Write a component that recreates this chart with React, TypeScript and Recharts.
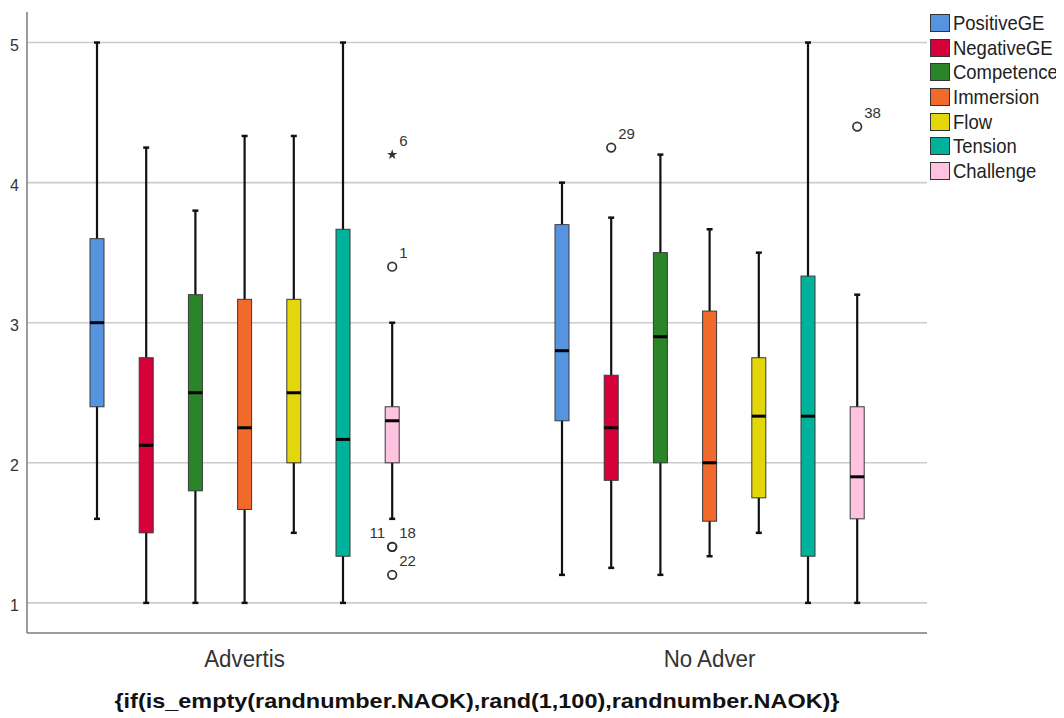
import React from 'react';
import { BarChart, Bar, XAxis, YAxis, CartesianGrid, Legend, Label } from 'recharts';

const FONT = '"Liberation Sans", Arial, Helvetica, sans-serif';

// ---- data ----
const categories = ['Advertis', 'No Adver'];
const seriesNames = ['PositiveGE', 'NegativeGE', 'Competence', 'Immersion', 'Flow', 'Tension', 'Challenge'];
const seriesColors = ['#5794E0', '#D6003A', '#2A8428', '#F2692C', '#E3D60A', '#00B29B', '#FFC3E1'];
const yTicks = [1, 2, 3, 4, 5];
const chartTitle = '{if(is_empty(randnumber.NAOK),rand(1,100),randnumber.NAOK)}';

// rows: series, columns: [Advertis, No Adver]
const lowWhisker = [[1.6, 1.2], [1.0, 1.25], [1.0, 1.2], [1.0, 1.333], [1.5, 1.5], [1.0, 1.0], [1.6, 1.0]];
const q1 = [[2.4, 2.3], [1.5, 1.875], [1.8, 2.0], [1.667, 1.583], [2.0, 1.75], [1.333, 1.333], [2.0, 1.6]];
const medians = [[3.0, 2.8], [2.125, 2.25], [2.5, 2.9], [2.25, 2.0], [2.5, 2.333], [2.167, 2.333], [2.3, 1.9]];
const q3 = [[3.6, 3.7], [2.75, 2.625], [3.2, 3.5], [3.167, 3.083], [3.167, 2.75], [3.667, 3.333], [2.4, 2.4]];
const highWhisker = [[5.0, 4.0], [4.25, 3.75], [3.8, 4.2], [4.333, 3.667], [4.333, 3.5], [5.0, 5.0], [3.0, 3.2]];

const outlierCategory = [0, 0, 0, 0, 0, 1, 1];
const outlierSeries = [6, 6, 6, 6, 6, 1, 6];
const outlierValue = [4.2, 3.4, 1.4, 1.4, 1.2, 4.25, 4.4];
const outlierLabel = ['6', '1', '11', '18', '22', '29', '38'];
const outlierExtreme = [true, false, false, false, false, false, false];
const outlierLabelLeft = [false, false, true, false, false, false, false];

const data = categories.map((category, ci) => ({ category, ci }));

function starPath(cx: number, cy: number, R: number, r: number) {
  let d = '';
  for (let i = 0; i < 10; i++) {
    const ang = -Math.PI / 2 + (i * Math.PI) / 5;
    const rad = i % 2 === 0 ? R : r;
    d += (i === 0 ? 'M' : 'L') + (cx + rad * Math.cos(ang)).toFixed(2) + ',' + (cy + rad * Math.sin(ang)).toFixed(2);
  }
  return d + 'Z';
}

const BoxShape = (props: any) => {
  const { x, y, width, height, si } = props;
  const ci = props.payload && props.payload.ci !== undefined ? props.payload.ci : props.index;
  const lo = lowWhisker[si][ci];
  const hi = highWhisker[si][ci];
  const top = Math.min(y, y + height);
  const bot = Math.max(y, y + height);
  const k = (bot - top) / (hi - lo);
  const py = (v: number) => top + (hi - v) * k;
  const cx = x + width / 2;
  const yQ3 = py(q3[si][ci]);
  const yQ1 = py(q1[si][ci]);
  const yMed = py(medians[si][ci]);
  const items: any[] = [];
  outlierValue.forEach((v, oi) => {
    if (outlierCategory[oi] !== ci || outlierSeries[oi] !== si) return;
    const oy = py(v);
    items.push(
      <g key={'o' + oi}>
        {outlierExtreme[oi] ? (
          <path d={starPath(cx, oy, 5.4, 2.1)} fill="#333" />
        ) : (
          <circle cx={cx} cy={oy} r={4.3} fill="none" stroke="#333" strokeWidth={1.7} />
        )}
        <text
          x={outlierLabelLeft[oi] ? cx - 7 : cx + 7}
          y={oy - 9}
          textAnchor={outlierLabelLeft[oi] ? 'end' : 'start'}
          fontSize={15}
          fontFamily={FONT}
          fill="#333"
        >
          {outlierLabel[oi]}
        </text>
      </g>
    );
  });
  return (
    <g>
      <line x1={cx} x2={cx} y1={top} y2={bot} stroke="#111" strokeWidth={2.2} />
      <line x1={cx - 3} x2={cx + 3} y1={top} y2={top} stroke="#111" strokeWidth={2.5} />
      <line x1={cx - 3} x2={cx + 3} y1={bot} y2={bot} stroke="#111" strokeWidth={2.5} />
      <rect x={x} y={yQ3} width={width} height={yQ1 - yQ3} fill={seriesColors[si]} stroke="#3a3a3a" strokeWidth={1} />
      <line x1={x} x2={x + width} y1={yMed} y2={yMed} stroke="#000" strokeWidth={3} />
      {items}
    </g>
  );
};

const CatTick = (props: any) => {
  const { x, y, payload } = props;
  return (
    <text
      transform={`translate(${x},${y + 34}) scale(0.93,1)`}
      textAnchor="middle"
      fontSize={24}
      fontFamily={FONT}
      fill="#333"
    >
      {payload.value}
    </text>
  );
};

const ValTick = (props: any) => {
  const { x, y, payload } = props;
  return (
    <text x={x - 8} y={y + 8.5} textAnchor="end" fontSize={16} fontFamily={FONT} fill="#333">
      {payload.value}
    </text>
  );
};

const LegendBox = () => (
  <div style={{ fontFamily: FONT }}>
    {seriesNames.map((n, i) => (
      <div key={n} style={{ display: 'flex', alignItems: 'center', height: 24.6 }}>
        <div
          style={{
            width: 20,
            height: 18,
            background: seriesColors[i],
            border: '1px solid #333',
            boxSizing: 'border-box',
            flex: 'none',
          }}
        />
        <span
          style={{
            fontSize: 21,
            marginLeft: 3,
            display: 'inline-block',
            transform: 'scaleX(0.88)',
            transformOrigin: 'left center',
            whiteSpace: 'nowrap',
            color: '#222',
            lineHeight: '24px',
          }}
        >
          {n}
        </span>
      </div>
    ))}
  </div>
);

const gridRows = (p: any) => {
  const yAxis = p && p.yAxis;
  if (yAxis && typeof yAxis.scale === 'function') {
    return yTicks.map((t) => yAxis.scale(t));
  }
  const off = p.offset;
  return yTicks.map((t) => off.top + ((5.218 - t) / (5.218 - 0.785)) * off.height);
};

export default function App() {
  return (
    <BarChart
      width={1048}
      height={708}
      data={data}
      margin={{ top: 4, right: 0, bottom: 0, left: 0 }}
      barSize={14}
      barGap={35.2}
    >
      <CartesianGrid
        vertical={false}
        stroke="#cccccc"
        strokeWidth={1.6}
        horizontalCoordinatesGenerator={gridRows}
      />
      <XAxis
        dataKey="category"
        type="category"
        padding={{ left: -15, right: -15 }}
        height={83}
        tickSize={0}
        tickMargin={0}
        tickLine={false}
        axisLine={{ stroke: '#7a7a7a', strokeWidth: 1.5 }}
        tick={<CatTick />}
      >
        <Label
          content={(p: any) => {
            const vb = p.viewBox || {};
            return (
              <text
                x={vb.x + vb.width / 2}
                y={vb.y + 75}
                textAnchor="middle"
                fontSize={21}
                fontWeight="bold"
                fontFamily={FONT}
                fill="#111"
                textLength={725}
                lengthAdjust="spacingAndGlyphs"
              >
                {chartTitle}
              </text>
            );
          }}
        />
      </XAxis>
      <YAxis
        type="number"
        domain={[0.785, 5.218]}
        allowDataOverflow
        ticks={yTicks}
        width={19}
        tickSize={0}
        tickMargin={0}
        tickLine={false}
        axisLine={{ stroke: '#7a7a7a', strokeWidth: 1.5 }}
        tick={<ValTick />}
      />
      <Legend
        layout="vertical"
        align="right"
        verticalAlign="top"
        wrapperStyle={{ left: 922, top: 3, width: 129, margin: 0, padding: 0 }}
        content={() => <LegendBox />}
      />
      {seriesNames.map((name, si) => (
        <Bar
          key={name}
          name={name}
          dataKey={(row: any) => [lowWhisker[si][row.ci], highWhisker[si][row.ci]]}
          fill={seriesColors[si]}
          isAnimationActive={false}
          shape={(p: any) => <BoxShape {...p} si={si} />}
        />
      ))}
    </BarChart>
  );
}
